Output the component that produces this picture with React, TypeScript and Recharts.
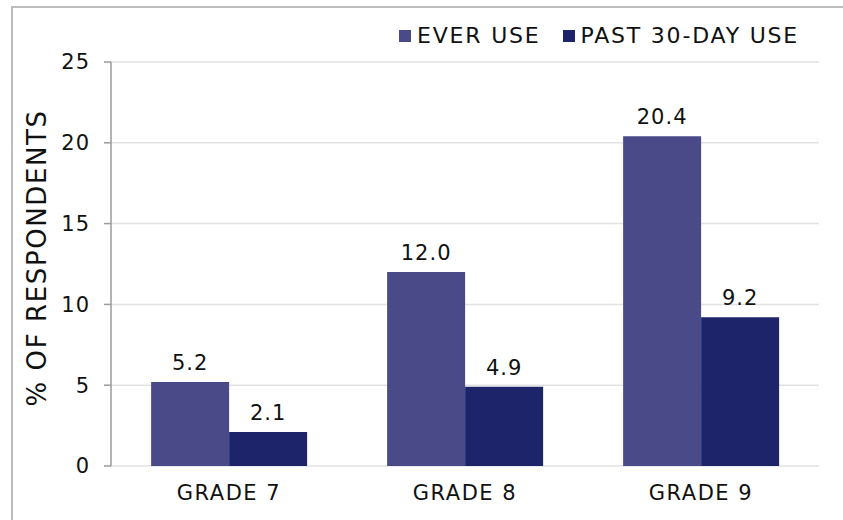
import { Bar, BarChart, CartesianGrid, LabelList, XAxis, YAxis } from "recharts";

const grades = ["GRADE 7", "GRADE 8", "GRADE 9"];
const everUse = [5.2, 12.0, 20.4];
const past30DayUse = [2.1, 4.9, 9.2];
const yTicks = [0, 5, 10, 15, 20, 25];
const edgeTicks = [0, 1, 2, 3];

const series = [
  { key: "ever", name: "EVER USE", color: "#4a4a89" },
  { key: "past", name: "PAST 30-DAY USE", color: "#1d246a" },
];

const data = grades.map((grade, i) => ({
  grade,
  ever: everUse[i],
  past: past30DayUse[i],
}));

const font = "'DejaVu Sans', sans-serif";
const axisColor = "#9a9a9a";
const textStyle = { fill: "#111", fontSize: 21, fontFamily: font, letterSpacing: 1 };

const App = () => {
  return (
    <div
      style={{
        position: "absolute",
        left: 11,
        top: 6,
        width: 832,
        height: 514,
        borderLeft: "2px solid #bdbdbd",
        borderTop: "2px solid #bdbdbd",
        fontFamily: font,
      }}
    >
      <div
        style={{
          position: "absolute",
          left: 386,
          top: 15,
          display: "flex",
          alignItems: "center",
          fontSize: 22,
          letterSpacing: 1.8,
          color: "#111",
          whiteSpace: "nowrap",
        }}
      >
        {series.map((s, i) => (
          <div
            key={s.key}
            style={{ display: "flex", alignItems: "center", marginLeft: i ? 22 : 0 }}
          >
            <span
              style={{ width: 12, height: 12, background: s.color, marginRight: 6, display: "inline-block" }}
            />
            <span>{s.name}</span>
          </div>
        ))}
      </div>
      <BarChart
        width={830}
        height={514}
        data={data}
        barCategoryGap="17%"
        barGap={0}
        margin={{ top: 54, right: 24, left: 0, bottom: 16 }}
      >
        <CartesianGrid vertical={false} stroke="#e2e2e2" strokeWidth={1.5} />
        <XAxis
          xAxisId="edge"
          type="number"
          domain={[0, 3]}
          ticks={edgeTicks}
          tick={false}
          height={0}
          tickSize={8}
          stroke={axisColor}
          strokeWidth={1.5}
        />
        <XAxis
          dataKey="grade"
          height={40}
          axisLine={false}
          tickLine={false}
          tickMargin={13}
          tick={{ ...textStyle, letterSpacing: 1.5 }}
        />
        <YAxis
          width={98}
          domain={[0, 25]}
          ticks={yTicks}
          tickSize={7}
          tickMargin={14}
          stroke={axisColor}
          strokeWidth={1.5}
          tick={textStyle}
          label={{
            value: "% OF RESPONDENTS",
            angle: -90,
            position: "insideLeft",
            offset: 24,
            dy: -6,
            style: {
              textAnchor: "middle",
              fontSize: 26,
              fontWeight: 500,
              letterSpacing: 1.6,
              fill: "#111",
              fontFamily: font,
            },
          }}
        />
        {series.map((s) => (
          <Bar key={s.key} dataKey={s.key} name={s.name} fill={s.color} isAnimationActive={false}>
            <LabelList
              dataKey={s.key}
              position="top"
              offset={12}
              formatter={(v: any) => Number(v).toFixed(1)}
              style={textStyle}
            />
          </Bar>
        ))}
      </BarChart>
    </div>
  );
};

export default App;
